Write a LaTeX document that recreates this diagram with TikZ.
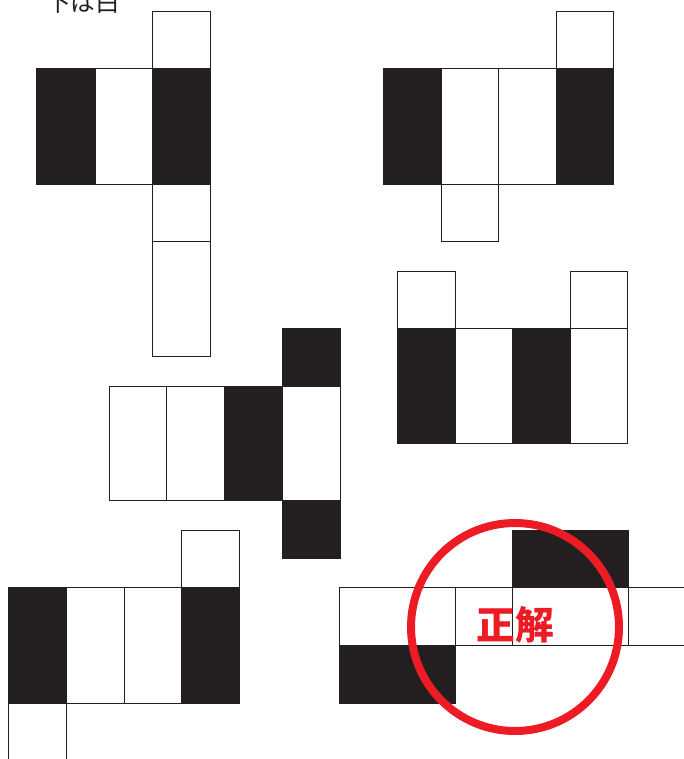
\documentclass[tikz,border=0pt]{standalone}
\usepackage{fontspec}
\newfontfamily\cjk{Noto Sans CJK JP}
\definecolor{inkblack}{RGB}{35,31,32}
\definecolor{markred}{RGB}{237,28,36}
\tikzset{
  wcell/.style={draw=inkblack,line width=1.3pt,fill=white},
  bcell/.style={draw=inkblack,line width=1.3pt,fill=inkblack},
}

\begin{document}
\begin{tikzpicture}[x=0.05cm,y=-0.05cm]
  \useasboundingbox (0,0) rectangle (684,759);
  \clip (0,0) rectangle (684,759);
  % caption, cut at the top edge
  \node[inkblack,anchor=base,inner sep=0pt] (cap) at (83,11.5)
    {\cjk\fontsize{35}{35}\selectfont 下は白};
  % net 1 (top left)
  \draw[wcell] (152,11) rectangle (210,68);
  \foreach \xa/\xb/\s in {36/95/bcell,95/152/wcell,152/210/bcell}
    \draw[\s] (\xa,68) rectangle (\xb,184);
  \draw[wcell] (152,184) rectangle (210,241);
  \draw[wcell] (152,241) rectangle (210,356);
  % net 2 (top right)
  \draw[wcell] (556,11) rectangle (613,68);
  \foreach \xa/\xb/\s in {383/441/bcell,441/498/wcell,498/556/wcell,556/613/bcell}
    \draw[\s] (\xa,68) rectangle (\xb,184);
  \draw[wcell] (441,184) rectangle (498,241);
  % net 3 (middle left)
  \draw[bcell] (282,328) rectangle (340,386);
  \foreach \xa/\xb/\s in {109/166/wcell,166/224/wcell,224/282/bcell,282/340/wcell}
    \draw[\s] (\xa,386) rectangle (\xb,500);
  \draw[bcell] (282,500) rectangle (340,558);
  % net 4 (middle right)
  \draw[wcell] (397,271) rectangle (455,328);
  \draw[wcell] (570,271) rectangle (627,328);
  \foreach \xa/\xb/\s in {397/455/bcell,455/512/wcell,512/570/bcell,570/627/wcell}
    \draw[\s] (\xa,328) rectangle (\xb,443);
  % net 5 (bottom left), open at the bottom edge
  \draw[wcell] (181,530) rectangle (239,587);
  \foreach \xa/\xb/\s in {8/66/bcell,66/124/wcell,124/181/wcell,181/239/bcell}
    \draw[\s] (\xa,587) rectangle (\xb,703);
  \draw[wcell] (8,703) rectangle (66,790);
  % net 6 (bottom right), lying on its side
  \draw[bcell] (512,530) rectangle (628,587);
  \foreach \xa/\xb in {339/455,455/512,512/628,628/744}
    \draw[wcell] (\xa,587) rectangle (\xb,645);
  \draw[bcell] (339,645) rectangle (455,703);
  % answer mark
  \draw[markred,line width=11.4pt] (515,627) circle[radius=5.2cm];
  \node[markred,inner sep=0pt] (ans) at (515,625)
    {\cjk\bfseries\fontsize{55}{55}\selectfont 正解};
\end{tikzpicture}
\end{document}
